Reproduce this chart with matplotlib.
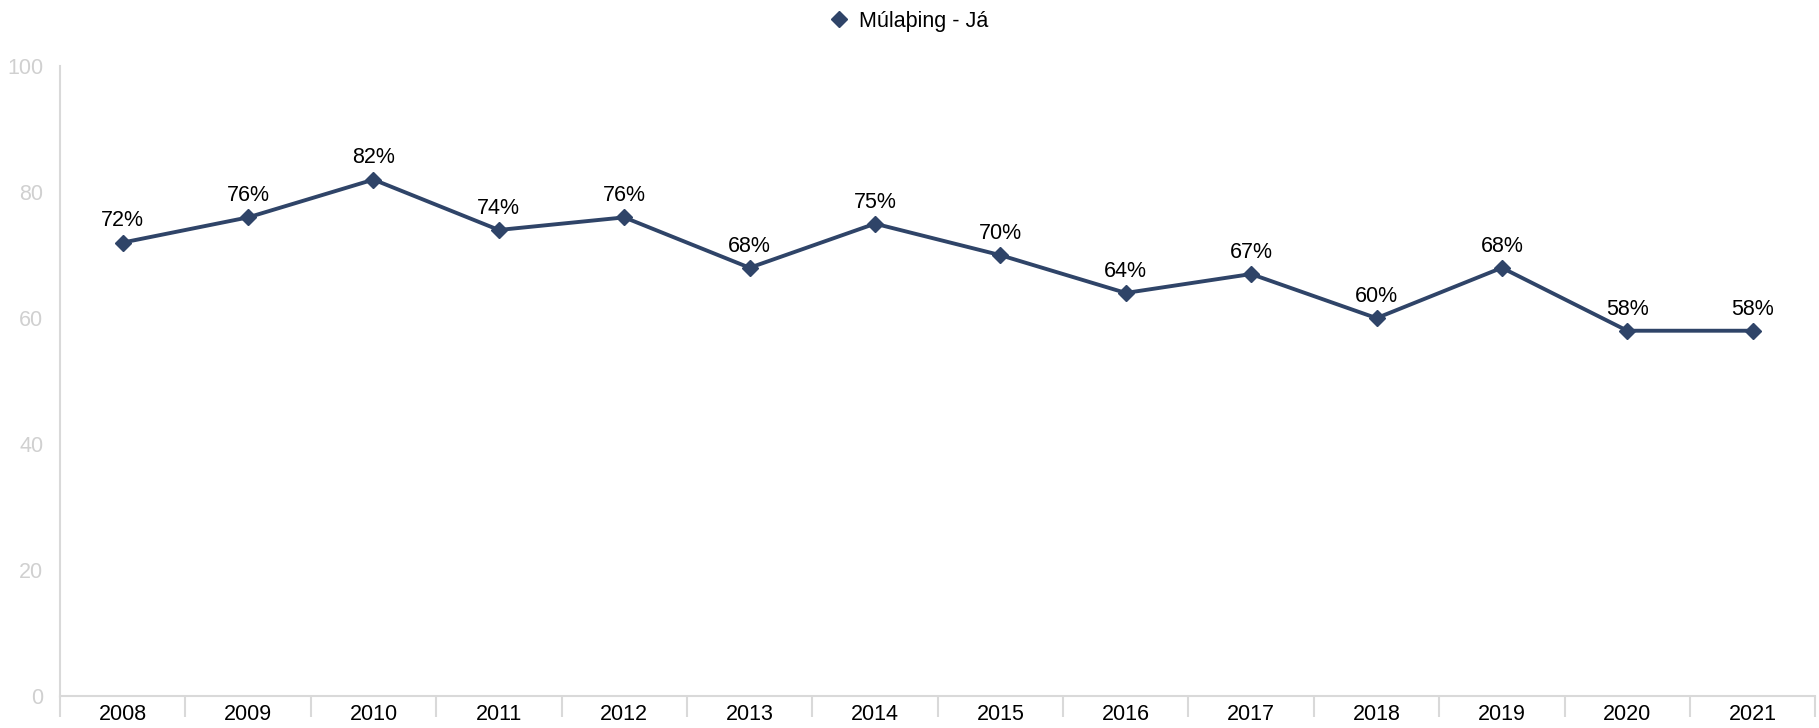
import numpy as np
import matplotlib.pyplot as plt

# survey share answering "Já" per year
years = ['2008', '2009', '2010', '2011', '2012', '2013', '2014',
         '2015', '2016', '2017', '2018', '2019', '2020', '2021']
values = [72, 76, 82, 74, 76, 68, 75, 70, 64, 67, 60, 68, 58, 58]
series_name = 'Múlaþing - Já'

plt.rcParams['font.family'] = ['Liberation Sans', 'DejaVu Sans']

line_color = '#2f4468'
grey = '#d9d9d9'
fs = 15.5

fig = plt.figure(figsize=(18.19, 7.28), dpi=100)
ax = fig.add_axes([0.033, 0.044, 0.965, 0.865])

x = np.arange(len(years))
ax.plot(x, values, color=line_color, linewidth=2.8, marker='D',
        markersize=8, label=series_name)
for xi, v in zip(x, values):
    ax.annotate('%d%%' % v, (xi, v), xytext=(0, 8), textcoords='offset points',
                ha='center', va='bottom', fontsize=fs, color='black')

ax.set_xlim(-0.5, len(years) - 0.5)
ax.set_ylim(0, 100)
ax.set_yticks([0, 20, 40, 60, 80, 100])
ax.tick_params(axis='y', length=0, labelcolor='#d0d0d0', labelsize=fs, pad=12)

# category labels centred, tick marks on the boundaries
ax.set_xticks(x)
ax.set_xticklabels(years)
ax.set_xticks(np.arange(-0.5, len(years)), minor=True)
ax.tick_params(axis='x', which='major', length=0, labelsize=fs, pad=6)
ax.tick_params(axis='x', which='minor', length=15, width=1.5, color=grey)

for side in ['top', 'right']:
    ax.spines[side].set_visible(False)
ax.spines['left'].set_color(grey)
ax.spines['left'].set_linewidth(1.5)
ax.spines['bottom'].set_color(grey)
ax.spines['bottom'].set_linewidth(1.5)

fig.legend(loc='upper center', bbox_to_anchor=(0.5, 1.012), frameon=False,
           fontsize=fs, handlelength=0.8, handletextpad=0.5,
           markerscale=1.0)
leg = fig.legends[0]
for h in leg.legend_handles:
    h.set_linestyle('none')

fig.savefig('out.png', dpi=100)
